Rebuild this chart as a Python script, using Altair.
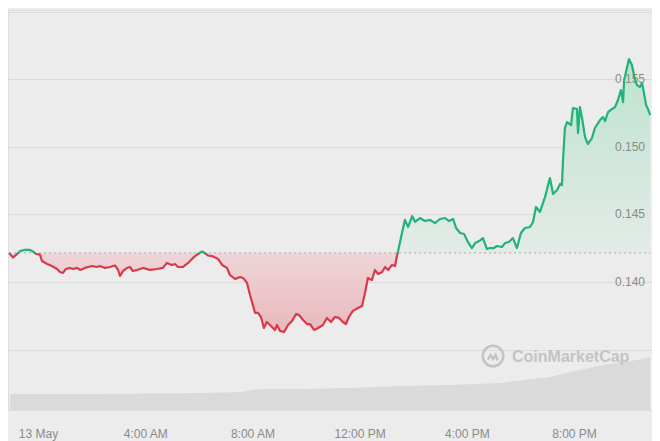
import altair as alt
import pandas as pd

# ---- data (hours after 13 May 00:00, price in USD) ----
hours = [
    -1.08, -0.93, -0.82, -0.67, -0.49, -0.30, -0.19, -0.07, 0.07, 0.15,
    0.34, 0.52, 0.71, 0.82, 0.93, 1.04, 1.19, 1.31, 1.46, 1.57,
    1.75, 1.87, 2.01, 2.20, 2.31, 2.50, 2.69, 2.80, 2.87, 2.99,
    3.06, 3.17, 3.32, 3.43, 3.54, 3.69, 3.92, 4.18, 4.44, 4.66,
    4.81, 5.00, 5.11, 5.22, 5.41, 5.60, 5.78, 5.97, 6.12, 6.23,
    6.34, 6.53, 6.72, 6.87, 7.05, 7.16, 7.35, 7.54, 7.65, 7.80,
    7.91, 8.10, 8.21, 8.32, 8.43, 8.54, 8.73, 8.84, 8.92, 9.03,
    9.18, 9.33, 9.48, 9.63, 9.74, 9.89, 10.04, 10.15, 10.30, 10.45,
    10.63, 10.78, 10.93, 11.08, 11.23, 11.38, 11.49, 11.60, 11.75, 11.94,
    12.09, 12.20, 12.31, 12.46, 12.57, 12.69, 12.84, 12.95, 13.06, 13.21,
    13.32, 13.40, 13.47, 13.58, 13.69, 13.81, 13.96, 14.07, 14.25, 14.44,
    14.63, 14.81, 15.00, 15.19, 15.34, 15.49, 15.60, 15.75, 15.90, 16.04,
    16.19, 16.31, 16.46, 16.60, 16.75, 16.87, 17.01, 17.13, 17.31, 17.43,
    17.57, 17.72, 17.87, 18.02, 18.17, 18.36, 18.47, 18.58, 18.73, 18.92,
    19.10, 19.22, 19.37, 19.48, 19.55, 19.59, 19.66, 19.74, 19.89, 19.96,
    20.11, 20.15, 20.22, 20.30, 20.41, 20.52, 20.67, 20.78, 20.97, 21.08,
    21.16, 21.27, 21.42, 21.53, 21.64, 21.75, 21.83, 21.87, 21.94, 22.05,
    22.16, 22.28, 22.35, 22.46, 22.54, 22.61, 22.69, 22.76, 22.84,
]
prices = [
    0.14215, 0.14181, 0.14200, 0.14229, 0.14237, 0.14237, 0.14226, 0.14207, 0.14203, 0.14155,
    0.14133, 0.14118, 0.14096, 0.14074, 0.14067, 0.14096, 0.14104, 0.14096, 0.14104, 0.14089,
    0.14104, 0.14111, 0.14118, 0.14111, 0.14118, 0.14104, 0.14111, 0.14118, 0.14122, 0.14089,
    0.14044, 0.14081, 0.14104, 0.14111, 0.14081, 0.14089, 0.14104, 0.14089, 0.14096, 0.14104,
    0.14141, 0.14126, 0.14133, 0.14111, 0.14111, 0.14141, 0.14178, 0.14207, 0.14226, 0.14214,
    0.14196, 0.14189, 0.14170, 0.14126, 0.14104, 0.14052, 0.14022, 0.14037, 0.14030, 0.13993,
    0.13904, 0.13771, 0.13771, 0.13741, 0.13660, 0.13704, 0.13667, 0.13645, 0.13682, 0.13638,
    0.13630, 0.13682, 0.13712, 0.13763, 0.13756, 0.13719, 0.13689, 0.13689, 0.13645, 0.13660,
    0.13682, 0.13734, 0.13704, 0.13741, 0.13734, 0.13704, 0.13689, 0.13741, 0.13786, 0.13808,
    0.13822, 0.13919, 0.14030, 0.14015, 0.14089, 0.14059, 0.14074, 0.14111, 0.14089, 0.14126,
    0.14118, 0.14200, 0.14259, 0.14362, 0.14459, 0.14407, 0.14488, 0.14444, 0.14473, 0.14451,
    0.14459, 0.14436, 0.14466, 0.14473, 0.14451, 0.14466, 0.14399, 0.14362, 0.14355, 0.14296,
    0.14251, 0.14288, 0.14303, 0.14325, 0.14244, 0.14251, 0.14251, 0.14266, 0.14259, 0.14288,
    0.14296, 0.14325, 0.14251, 0.14362, 0.14399, 0.14407, 0.14444, 0.14555, 0.14518, 0.14629,
    0.14769, 0.14651, 0.14680, 0.14725, 0.14717, 0.14902, 0.15139, 0.15183, 0.15161, 0.15287,
    0.15280, 0.15102, 0.15294, 0.15213, 0.15072, 0.15021, 0.15065, 0.15139, 0.15198, 0.15220,
    0.15191, 0.15257, 0.15280, 0.15294, 0.15346, 0.15420, 0.15331, 0.15494, 0.15553, 0.15649,
    0.15605, 0.15494, 0.15457, 0.15442, 0.15472, 0.15398, 0.15309, 0.15280, 0.15235,
]
open_price = 0.14215

vol_hours = [-1.04, 2.31, 6.04, 7.54, 8.28, 9.78, 11.64, 13.51, 15.37, 17.24, 19.10, 19.85, 21.08, 22.35, 22.84]
volumes = [1.6, 1.6, 1.7, 1.8, 2.1, 2.1, 2.2, 2.4, 2.5, 2.7, 3.3, 3.8, 4.5, 5.0, 5.3]

tick_hours = [0, 4, 8, 12, 16, 20]
tick_labels = ["13 May", "4:00 AM", "8:00 AM", "12:00 PM", "4:00 PM", "8:00 PM"]
price_grid = [0.135, 0.140, 0.145, 0.150, 0.155, 0.160]
price_ticks = [0.140, 0.145, 0.150, 0.155]
price_tick_labels = ["0.140", "0.145", "0.150", "0.155"]

# ---- tables ----
df = pd.DataFrame({"h": hours, "price": prices})
df["base"] = open_price
vdf = pd.DataFrame({"h": vol_hours, "vol": volumes})
rdf = pd.DataFrame({"h": [hours[0]], "h2": [hours[-1]], "base": [open_price]})
ldf = pd.DataFrame({"p": price_ticks, "lab": price_tick_labels})

pmax, pmin = max(prices), min(prices)
f = (pmax - open_price) / (pmax - pmin)

GREEN = "#22b27a"
RED = "#d93a4a"

line_grad = alt.Gradient(
    gradient="linear", x1=0, x2=0, y1=0, y2=1,
    stops=[alt.GradientStop(offset=0, color=GREEN), alt.GradientStop(offset=f, color=GREEN),
           alt.GradientStop(offset=f, color=RED), alt.GradientStop(offset=1, color=RED)],
)
area_grad = alt.Gradient(
    gradient="linear", x1=0, x2=0, y1=0, y2=1,
    stops=[alt.GradientStop(offset=0, color="#bde3cf"), alt.GradientStop(offset=f, color="#e3ebe7"),
           alt.GradientStop(offset=f, color="#efd5d8"), alt.GradientStop(offset=1, color="#e7b9be")],
)


def label_expr(values, labels):
    expr = "''"
    for v, l in zip(reversed(values), reversed(labels)):
        expr = f"abs(datum.value - {v}) < 0.0001 ? '{l}' : ({expr})"
    return expr


xscale = alt.Scale(domain=[-1.12, 22.91], nice=False, zero=False)
yscale = alt.Scale(domain=[0.13053, 0.16012], nice=False, zero=False)

xaxis = alt.Axis(values=tick_hours, labelExpr=label_expr(tick_hours, tick_labels), title=None,
                 grid=False, domain=False, ticks=False, labelPadding=18, labelFontSize=12,
                 labelColor="#8a8a8a", labelFlush=False, labelOverlap=False)
yaxis = alt.Axis(orient="right", values=price_grid, labels=False, title=None, grid=True,
                 gridColor="#dcdcdc", gridWidth=1, domain=False, ticks=False)

X = alt.X("h:Q", scale=xscale, axis=xaxis)

volume = alt.Chart(vdf).mark_area(color="#dadada").encode(
    x=X,
    y=alt.Y("vol:Q", scale=alt.Scale(domain=[0, 40]), axis=None),
)

area = alt.Chart(df).mark_area(fill=area_grad, line=False).encode(
    x=X,
    y=alt.Y("price:Q", scale=yscale, axis=yaxis),
    y2="base:Q",
)
ylabels = alt.Chart(ldf).mark_text(align="right", baseline="middle", fontSize=12,
                                   color="#8a8a8a").encode(
    x=alt.value(637),
    y=alt.Y("p:Q", scale=yscale, axis=yaxis),
    text="lab:N",
)
baseline = alt.Chart(rdf).mark_rule(color="#a8a8a8", strokeDash=[2, 3], strokeWidth=1).encode(
    x=X, x2="h2:Q",
    y=alt.Y("base:Q", scale=yscale, axis=yaxis),
)
line = alt.Chart(df).mark_line(stroke=line_grad, strokeWidth=2.2, strokeJoin="round").encode(
    x=X,
    y=alt.Y("price:Q", scale=yscale, axis=yaxis),
)
price_layer = alt.layer(area, ylabels, baseline, line)

wm = pd.DataFrame({"t": ["CoinMarketCap"]})
wm_circle = alt.Chart(wm).mark_point(shape="circle", size=420, filled=False, color="#c4c4c4",
                                     strokeWidth=2.5, opacity=1).encode(
    x=alt.value(485), y=alt.value(346))
wm_m = alt.Chart(wm).mark_point(shape="M -0.9 0.45 L -0.45 -0.35 L 0 0.3 L 0.45 -0.35 L 0.8 0.6",
                                size=130, filled=False, color="#c4c4c4", strokeWidth=2.5,
                                opacity=1).encode(x=alt.value(485), y=alt.value(347))
wm_text = alt.Chart(wm).mark_text(align="left", baseline="middle", fontSize=16, fontWeight="bold",
                                  color="#c4c4c4").encode(
    x=alt.value(504), y=alt.value(347), text="t:N")

chart = alt.layer(volume, price_layer, wm_circle, wm_m, wm_text).resolve_scale(
    y="independent"
).properties(
    width=644, height=400,
    autosize=alt.AutoSizeParams(type="none"),
    padding={"left": 0, "top": 2, "right": 0, "bottom": 31},
    background="#ececec",
).configure_view(stroke=None).configure(font="Liberation Sans")

chart.save("out.html", embed_options={"renderer": "svg", "actions": False})
